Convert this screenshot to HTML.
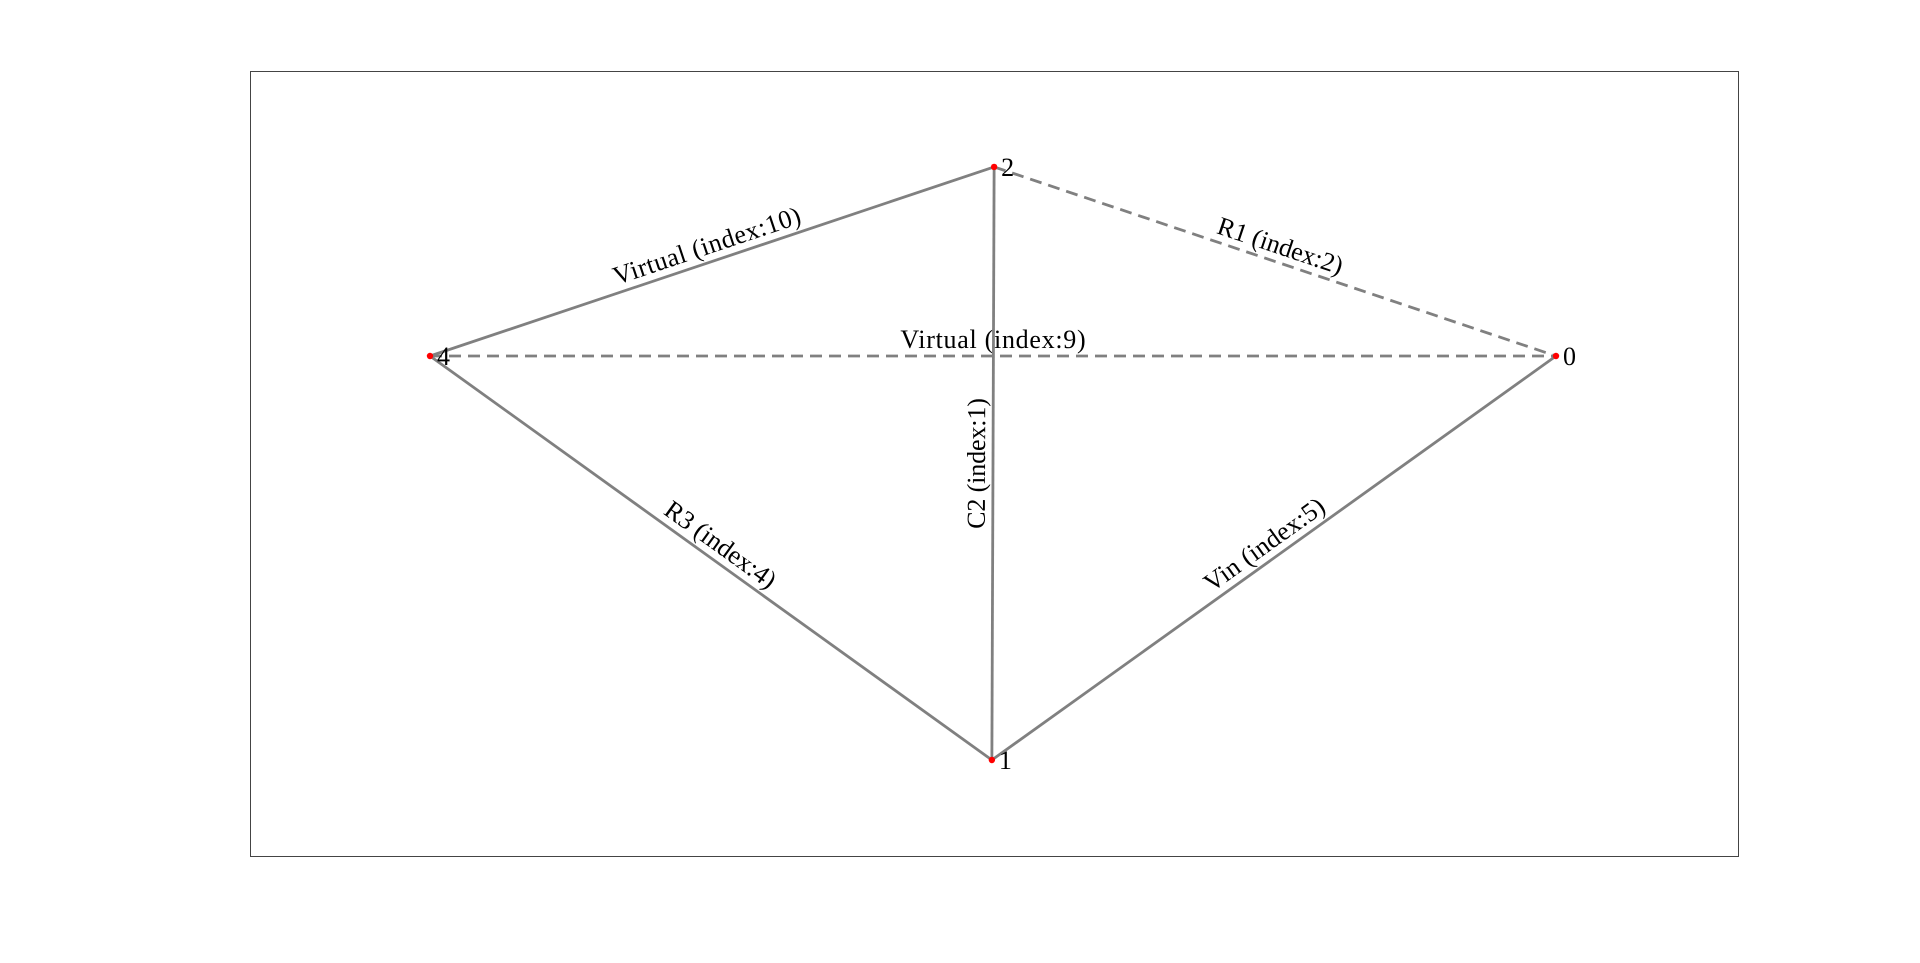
<!DOCTYPE html>
<html><head><meta charset="utf-8"><style>
html,body{margin:0;padding:0;background:#fff;}
svg{display:block;}
text{font-family:"Liberation Serif",serif;font-size:26px;fill:#000;}
</style></head><body>
<svg id="chart" width="1920" height="963" viewBox="0 0 1920 963">
<rect x="250.5" y="71.5" width="1488" height="785" fill="none" stroke="#444" stroke-width="1"/>
<g id="edges"></g><g id="nodes"></g>
</svg>
<script>
const nodeIds = ['0','1','2','4'];
const nodeX = [1, -0.002, 0.002, -1];
const nodeY = [0, -1, 0.468, 0];
const edgeFrom = ['4','4','2','4','1','2'];
const edgeTo   = ['2','0','0','1','0','1'];
const edgeLabels = ['Virtual (index:10)','Virtual (index:9)','R1 (index:2)','R3 (index:4)','Vin (index:5)','C2 (index:1)'];
const edgeDashed = [false,true,true,false,false,false];

const sx = v => 993 + v * 563;
const sy = v => 356 - v * 404;
const NS = 'http://www.w3.org/2000/svg';
const gE = document.getElementById('edges'), gN = document.getElementById('nodes');
function pos(id){const i=nodeIds.indexOf(id);return [sx(nodeX[i]),sy(nodeY[i])];}
edgeFrom.forEach((f,i)=>{
  const [x1,y1]=pos(f),[x2,y2]=pos(edgeTo[i]);
  const l=document.createElementNS(NS,'line');
  l.setAttribute('x1',x1);l.setAttribute('y1',y1);l.setAttribute('x2',x2);l.setAttribute('y2',y2);
  l.setAttribute('stroke','#808080');l.setAttribute('stroke-width','2.8');
  if(edgeDashed[i]) l.setAttribute('stroke-dasharray','12,7');
  
  
  gE.appendChild(l);
  let ang=Math.atan2(y2-y1,x2-x1)*180/Math.PI;
  if(ang>90)ang-=180; if(ang<=-90)ang+=180;
  const mx=(x1+x2)/2,my=(y1+y2)/2;
  const t=document.createElementNS(NS,'text');
  t.setAttribute('transform',`translate(${mx},${my}) rotate(${ang})`);
  t.setAttribute('x',0);t.setAttribute('y',-8);t.setAttribute('text-anchor','middle');
  t.setAttribute('textLength',edgeLabels[i].length*10.9);
  t.textContent=edgeLabels[i];
  
  
  gE.appendChild(t);
});
nodeIds.forEach((id,i)=>{
  const x=sx(nodeX[i]),y=sy(nodeY[i]);
  const c=document.createElementNS(NS,'circle');
  c.setAttribute('cx',x);c.setAttribute('cy',y);c.setAttribute('r',3.2);c.setAttribute('fill','#ff0000');
  
  
  gN.appendChild(c);
  const t=document.createElementNS(NS,'text');
  t.setAttribute('x',x+7);t.setAttribute('y',y+9);t.textContent=id;
  
  
  gN.appendChild(t);
});
</script>
</body></html>
